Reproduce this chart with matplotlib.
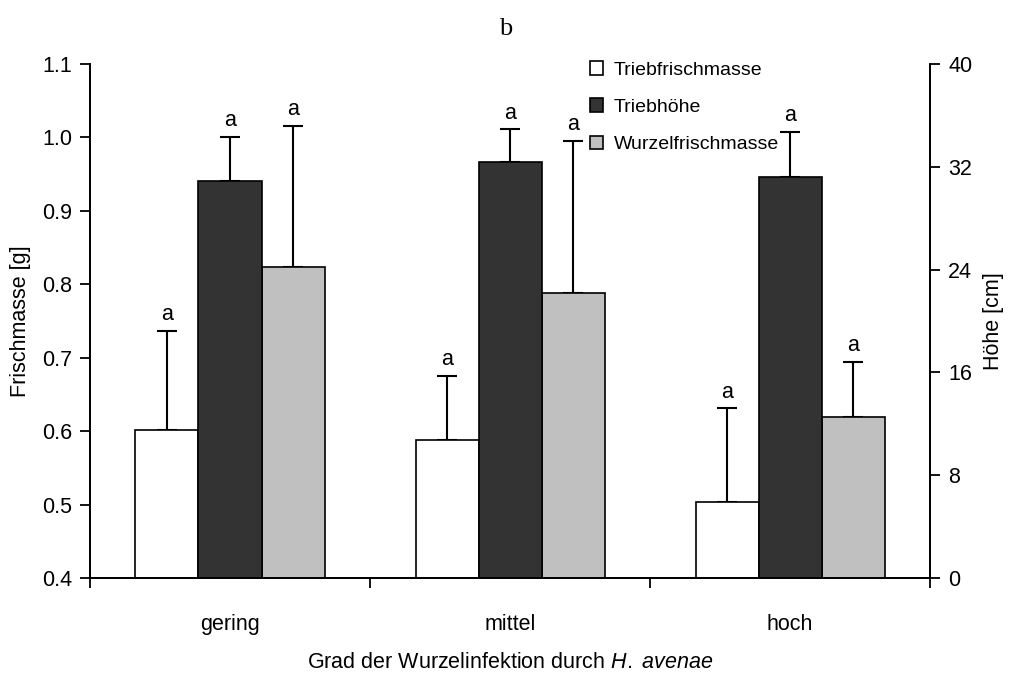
import numpy as np
import matplotlib.pyplot as plt
from matplotlib.patches import Patch

plt.rcParams['font.family'] = ['Liberation Sans', 'DejaVu Sans']
plt.rcParams['mathtext.fontset'] = 'custom'
plt.rcParams['mathtext.rm'] = 'Liberation Sans'
plt.rcParams['mathtext.it'] = 'Liberation Sans:italic'

categories = ["gering", "mittel", "hoch"]
# left axis (Frischmasse [g])
trieb_fm = [0.601, 0.588, 0.504]
trieb_fm_err = [0.135, 0.087, 0.127]
wurzel_fm = [0.823, 0.788, 0.620]
wurzel_fm_err = [0.193, 0.207, 0.074]
# right axis (Höhe [cm])
trieb_h = [30.9, 32.4, 31.2]
trieb_h_err = [3.4, 2.5, 3.5]
letters = ["a", "a", "a"]

fs = 15.5
x = np.arange(len(categories))
w = 0.225

fig = plt.figure(figsize=(10.11, 6.73), dpi=100)
ax = fig.add_axes([0.089, 0.141, 0.831, 0.764])
ax2 = ax.twinx()

ekw = dict(lw=1.5, capsize=7, capthick=1.5)
ax.bar(x - w, trieb_fm, w, color="white", edgecolor="black", lw=1.2, zorder=2)
ax.errorbar(x - w, trieb_fm, yerr=[np.zeros(3), trieb_fm_err], fmt="none", ecolor="black", zorder=1, **ekw)
ax.bar(x + w, wurzel_fm, w, color="#c0c0c0", edgecolor="black", lw=1.2, zorder=2)
ax.errorbar(x + w, wurzel_fm, yerr=[np.zeros(3), wurzel_fm_err], fmt="none", ecolor="black", zorder=1, **ekw)
ax2.bar(x, trieb_h, w, color="#333333", edgecolor="black", lw=1.2, zorder=2)
ax2.errorbar(x, trieb_h, yerr=[np.zeros(3), trieb_h_err], fmt="none", ecolor="black", zorder=1, **ekw)

for i in range(3):
    ax.text(x[i] - w, trieb_fm[i] + trieb_fm_err[i] + 0.008, letters[i], ha="center", va="bottom", fontsize=fs)
    ax.text(x[i] + w, wurzel_fm[i] + wurzel_fm_err[i] + 0.008, letters[i], ha="center", va="bottom", fontsize=fs)
    ax2.text(x[i], trieb_h[i] + trieb_h_err[i] + 0.45, letters[i], ha="center", va="bottom", fontsize=fs)

ax.set_xlim(-0.5, 2.5)
ax.set_ylim(0.4, 1.1)
ax.set_yticks(np.arange(0.4, 1.101, 0.1))
ax.set_yticklabels(["%.1f" % v for v in np.arange(0.4, 1.101, 0.1)])
ax2.set_ylim(0, 40)
ax2.set_yticks([0, 8, 16, 24, 32, 40])

ax.set_xticks([-0.5, 0.5, 1.5, 2.5])
ax.set_xticklabels([])
ax.set_xticks(x, minor=True)
ax.set_xticklabels(categories, minor=True, fontsize=fs)
ax.tick_params(axis="x", which="minor", length=0, pad=26)
ax.tick_params(axis="x", which="major", length=7, width=1.3, direction="out")
ax.tick_params(axis="y", length=7, width=1.3, labelsize=fs, pad=6)
ax2.tick_params(axis="y", length=7, width=1.3, labelsize=fs, pad=6)

for a in (ax, ax2):
    a.spines["top"].set_visible(False)
    for s in ("left", "right", "bottom"):
        a.spines[s].set_linewidth(1.3)

ax.set_ylabel("Frischmasse [g]", fontsize=fs, labelpad=8)
ax2.set_ylabel("Höhe [cm]", fontsize=fs, labelpad=8)
ax.set_xlabel("Grad der Wurzelinfektion durch $\\mathit{H.\\ avenae}$", fontsize=fs, labelpad=12)
fig.text(0.5, 0.957, "b", ha="center", va="center", fontsize=19, family="Liberation Serif")

handles = [Patch(facecolor="white", edgecolor="black", lw=1.2),
           Patch(facecolor="#333333", edgecolor="black", lw=1.2),
           Patch(facecolor="#c0c0c0", edgecolor="black", lw=1.2)]
leg = ax2.legend(handles, ["Triebfrischmasse", "Triebhöhe", "Wurzelfrischmasse"],
                 loc="upper left", bbox_to_anchor=(0.575, 1.037), frameon=False, fontsize=14,
                 handlelength=0.7, handleheight=0.7, handletextpad=0.55, labelspacing=1.0,
                 borderpad=0.35)

fig.savefig("out.png", dpi=100)
